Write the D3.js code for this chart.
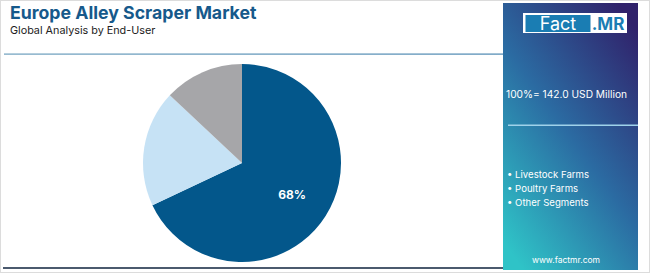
<!DOCTYPE html>
<html>
<head>
<meta charset="utf-8">
<script src="https://cdn.jsdelivr.net/npm/d3@7"></script>
<style>
  html, body { margin: 0; padding: 0; background: #fff; }
  svg { display: block; font-family: Inter, "Open Sans", sans-serif; }
</style>
</head>
<body>
<div id="chart"></div>
<script>
// chart data
var segments = ['Livestock Farms', 'Poultry Farms', 'Other Segments'];
var shares   = [68, 19, 13];
var colors   = ['#03578b', '#c6e2f5', '#a6a6a9'];
var title    = 'Europe Alley Scraper Market';
var subtitle = 'Global Analysis by End-User';
var totalLabel = '100%= 142.0 USD Million';

var width = 650, height = 273;

var svg = d3.select('#chart').append('svg')
    .attr('width', width)
    .attr('height', height);

var defs = svg.append('defs');

var grad = defs.append('linearGradient')
    .attr('id', 'panelGrad')
    .attr('x1', '0.15').attr('y1', '1')
    .attr('x2', '0.85').attr('y2', '0');
grad.append('stop').attr('offset', '0').attr('stop-color', '#2fc3c7');
grad.append('stop').attr('offset', '0.5').attr('stop-color', '#2b6ba2');
grad.append('stop').attr('offset', '1').attr('stop-color', '#30226b');

var lineGrad = defs.append('linearGradient')
    .attr('id', 'lineGrad')
    .attr('x1', '0').attr('x2', '1');
lineGrad.append('stop').attr('offset', '0').attr('stop-color', '#6d9fbd');
lineGrad.append('stop').attr('offset', '1').attr('stop-color', '#4a86b0');

// outer frame
svg.append('rect')
    .attr('x', 0.5).attr('y', 0.5)
    .attr('width', width - 1).attr('height', height - 1)
    .attr('fill', '#fff')
    .attr('stroke', '#dcdcdc');

// header
svg.append('text')
    .attr('x', 10).attr('y', 19)
    .attr('font-size', 17.7).attr('font-weight', 700)
    .attr('fill', '#16598b')
    .text(title);

svg.append('text')
    .attr('x', 10).attr('y', 34)
    .attr('font-size', 10.8)
    .attr('fill', '#222')
    .text(subtitle);

svg.append('rect')
    .attr('x', 4).attr('y', 53.5)
    .attr('width', 500).attr('height', 1.2)
    .attr('fill', 'url(#lineGrad)');

// bottom rule
svg.append('rect')
    .attr('x', 3).attr('y', 267)
    .attr('width', 502).attr('height', 2)
    .attr('fill', '#4b5a6e');

// right panel
var px = 503, pw = 135;
svg.append('rect')
    .attr('x', px).attr('y', 3)
    .attr('width', pw).attr('height', 267)
    .attr('fill', 'url(#panelGrad)');

// logo
svg.append('rect')
    .attr('x', 523).attr('y', 13)
    .attr('width', 104).attr('height', 20)
    .attr('fill', '#fff');
svg.append('rect')
    .attr('x', 525.5).attr('y', 15)
    .attr('width', 65).attr('height', 17)
    .attr('fill', '#1a7db3');
svg.append('text')
    .attr('x', 558).attr('y', 29.5)
    .attr('text-anchor', 'middle')
    .attr('font-size', 18)
    .attr('fill', '#fff')
    .text('Fact');
svg.append('text')
    .attr('x', 608).attr('y', 29.5)
    .attr('text-anchor', 'middle')
    .attr('font-size', 17).attr('font-weight', 700)
    .attr('fill', '#1a7db3')
    .text('.MR');

svg.append('text')
    .attr('x', 506).attr('y', 98)
    .attr('font-size', 10.2)
    .attr('fill', '#fff')
    .text(totalLabel);

svg.append('rect')
    .attr('x', 508).attr('y', 124.5)
    .attr('width', 130).attr('height', 1.5)
    .attr('fill', '#9fd2ea');

// legend
svg.append('g')
    .selectAll('text')
    .data(segments)
    .join('text')
    .attr('x', 507)
    .attr('y', function(d, i) { return 178 + i * 14; })
    .attr('font-size', 9.6)
    .attr('fill', '#fff')
    .text(function(d) { return '\u2022 ' + d; });

svg.append('text')
    .attr('x', 566).attr('y', 263)
    .attr('text-anchor', 'middle')
    .attr('font-size', 8.5)
    .attr('fill', '#fff')
    .text('www.factmr.com');

// pie
var cx = 242, cy = 163, r = 99;
var pie = d3.pie().sort(null).value(function(d) { return d; });
var arc = d3.arc().innerRadius(0).outerRadius(r);
var labelArc = d3.arc().innerRadius(r * 0.6).outerRadius(r * 0.6);

var g = svg.append('g').attr('transform', 'translate(' + cx + ',' + cy + ')');
var arcs = pie(shares);

g.selectAll('path')
    .data(arcs)
    .join('path')
    .attr('d', arc)
    .attr('fill', function(d, i) { return colors[i]; });

g.selectAll('text')
    .data(arcs.filter(function(d) { return d.data >= 30; }))
    .join('text')
    .attr('transform', function(d) { return 'translate(' + labelArc.centroid(d) + ')'; })
    .attr('text-anchor', 'middle')
    .attr('dy', '0.35em')
    .attr('font-size', 12).attr('font-weight', 700)
    .attr('fill', '#fff')
    .text(function(d) { return d.data + '%'; });
</script>
</body>
</html>
